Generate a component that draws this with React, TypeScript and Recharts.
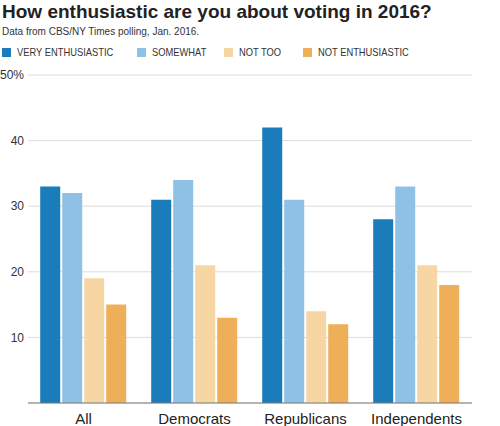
import { BarChart, Bar, XAxis, YAxis, CartesianGrid } from 'recharts';

const groups = ['All', 'Democrats', 'Republicans', 'Independents'];
const veryEnthusiastic = [33, 31, 42, 28];
const somewhat = [32, 34, 31, 33];
const notToo = [19, 21, 14, 21];
const notEnthusiastic = [15, 13, 12, 18];
const yTicks = [10, 20, 30, 40, 50];

const series = [
  { key: 'very', name: 'VERY ENTHUSIASTIC', color: '#1a7cba', values: veryEnthusiastic },
  { key: 'somewhat', name: 'SOMEWHAT', color: '#8fc1e7', values: somewhat },
  { key: 'notToo', name: 'NOT TOO', color: '#f6d7a4', values: notToo },
  { key: 'notEnth', name: 'NOT ENTHUSIASTIC', color: '#efaf58', values: notEnthusiastic },
];

const data = groups.map((g, i) => {
  const row: { [k: string]: string | number } = { group: g };
  series.forEach((s) => {
    row[s.key] = s.values[i];
  });
  return row;
});

// legend swatch x positions
const legendX = [2, 137, 224, 303];
const font = '"Liberation Sans", Arial, sans-serif';

export default function App() {
  return (
    <div style={{ position: 'absolute', left: 0, top: 0, width: 500, height: 426, background: '#fff', fontFamily: font }}>
      <div style={{ position: 'absolute', left: 2, top: 1, fontSize: 19, fontWeight: 'bold', color: '#222', whiteSpace: 'nowrap' }}>
        How enthusiastic are you about voting in 2016?
      </div>
      <div style={{ position: 'absolute', left: 2, top: 26, fontSize: 10, color: '#333', whiteSpace: 'nowrap' }}>
        Data from CBS/NY Times polling, Jan. 2016.
      </div>
      {series.map((s, i) => (
        <div key={s.key} style={{ position: 'absolute', left: legendX[i], top: 46, height: 12, display: 'flex', alignItems: 'center', whiteSpace: 'nowrap' }}>
          <div style={{ width: 9, height: 9, background: s.color, marginRight: 6 }} />
          <span style={{ display: 'inline-block', fontSize: 11, color: '#333', transform: 'scaleX(0.85)', transformOrigin: 'left center' }}>
            {s.name}
          </span>
        </div>
      ))}
      <div style={{ position: 'absolute', left: 0, top: 0 }}>
        <BarChart
          width={500}
          height={426}
          data={data}
          margin={{ top: 75, right: 28, left: 0, bottom: 0 }}
          barCategoryGap="11%"
          barGap={2}
        >
          <CartesianGrid vertical={false} stroke="#dcdcdc" />
          <XAxis
            dataKey="group"
            height={23}
            tickLine={false}
            axisLine={{ stroke: '#7a7a7a' }}
            tick={{ fontSize: 15, fill: '#222', fontFamily: font }}
            tickMargin={4}
          />
          <YAxis
            width={28}
            domain={[0, 50]}
            ticks={yTicks}
            tickLine={false}
            axisLine={false}
            tickSize={0}
            tickMargin={4}
            tickFormatter={(v: number) => (v === 50 ? '50%' : String(v))}
            tick={{ fontSize: 12, fill: '#333', fontFamily: font }}
          />
          {series.map((s) => (
            <Bar key={s.key} dataKey={s.key} name={s.name} fill={s.color} isAnimationActive={false} />
          ))}
        </BarChart>
      </div>
    </div>
  );
}
